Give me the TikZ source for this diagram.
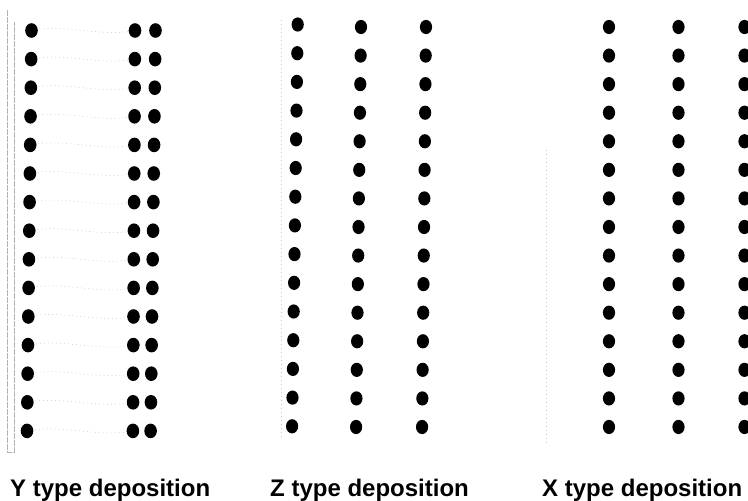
\documentclass[tikz,border=0pt]{standalone}
\usepackage{fontspec}
\setmainfont{Liberation Sans}
\begin{document}
\begin{tikzpicture}[x=1pt,y=-1pt,
  faint/.style={draw=black!22,line width=0.5pt,dash pattern=on 1pt off 3pt},
  edge/.style={draw=black!30,line width=0.5pt,dash pattern=on 6pt off 1pt},
  lbl/.style={anchor=base west,inner sep=0pt,font=\bfseries\fontsize{24}{28}\selectfont}]
\useasboundingbox (0,0) rectangle (748,501);
% substrate edge (faint)
\draw[edge] (7,10) -- (7,452) -- (14,452) -- (14,22);
\draw[faint] (281,20) -- (281,440);
\draw[faint] (546,150) -- (546,445);
% Y type
\foreach \i in {0,...,14}{
  \pgfmathsetmacro{\yy}{30.5+28.6*\i}
  \pgfmathsetmacro{\xa}{31.5-0.32*\i}
  \pgfmathsetmacro{\xb}{135-0.15*\i}
  \pgfmathsetmacro{\xc}{155.5-0.35*\i}
  \draw[faint] (\xa,\yy) .. controls (\xa+35,\yy-7) and (\xb-35,\yy+7) .. (\xb,\yy);
  \fill (\xa,\yy) ellipse [x radius=6.3pt,y radius=7.3pt];
  \fill (\xb,\yy) ellipse [x radius=6.3pt,y radius=7.3pt];
  \fill (\xc,\yy) ellipse [x radius=6.3pt,y radius=7.3pt];
}
% Z type
\foreach \i in {0,...,14}{
  \pgfmathsetmacro{\ya}{24.5+28.7*\i}
  \pgfmathsetmacro{\yy}{27+28.57*\i}
  \pgfmathsetmacro{\xa}{297.7-0.4*\i}
  \pgfmathsetmacro{\xb}{361-0.35*\i}
  \pgfmathsetmacro{\xc}{426-0.28*\i}
  \fill (\xa,\ya) ellipse [x radius=6.1pt,y radius=7.1pt];
  \fill (\xb,\yy) ellipse [x radius=6.1pt,y radius=7.1pt];
  \fill (\xc,\yy) ellipse [x radius=6.1pt,y radius=7.1pt];
}
% X type
\foreach \i in {0,...,14}{
  \pgfmathsetmacro{\yy}{27+28.57*\i}
  \fill (609,\yy) ellipse [x radius=6.1pt,y radius=7.1pt];
  \fill (678.5,\yy) ellipse [x radius=6.1pt,y radius=7.1pt];
  \fill (744.5,\yy) ellipse [x radius=6.1pt,y radius=7.1pt];
}
\node[lbl] (ly) at (10,496) {Y type deposition};
\node[lbl] (lz) at (270,496) {Z type deposition};
\node[lbl] (lx) at (542,496) {X type deposition};
\end{tikzpicture}
\end{document}
